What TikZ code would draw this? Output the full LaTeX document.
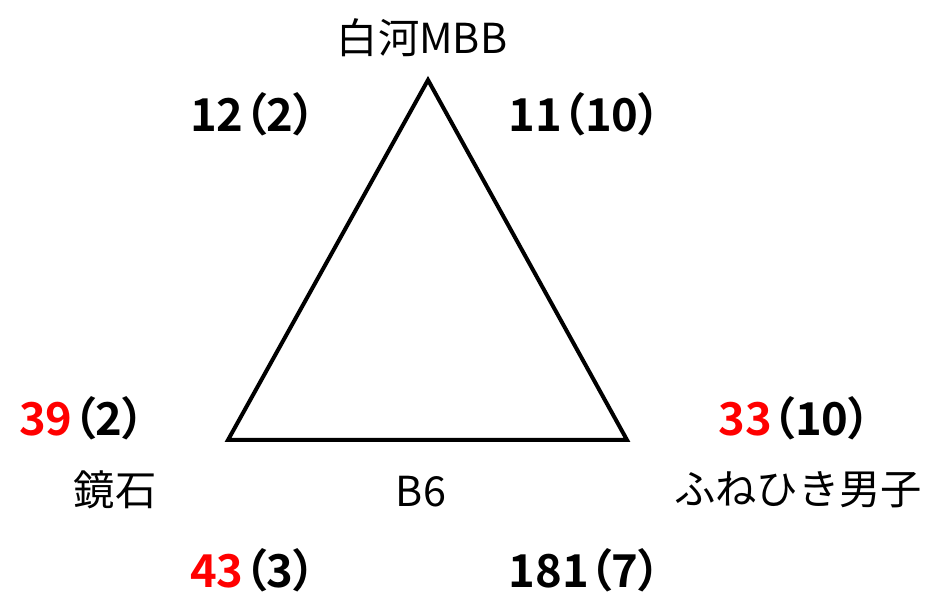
\documentclass[tikz,border=0pt]{standalone}
\usepackage{fontspec}
\setmainfont{Noto Sans CJK JP}[BoldFont={Noto Sans CJK JP Bold}]
\newfontfamily\scorefont{Noto Sans CJK JP Bold}[RawFeature=+palt]
\usetikzlibrary{positioning}
\definecolor{hit}{RGB}{255,0,0}

\begin{document}
\begin{tikzpicture}[x=0.75pt, y=-0.75pt, font=\fontsize{31pt}{36pt}\selectfont,
    num/.style={font=\fontsize{34pt}{40pt}\scorefont}]
        \useasboundingbox (0,0) rectangle (936,595);

        % corners of the triangle
        \coordinate (shirakawa) at (428,80);
        \coordinate (kagami) at (228,440);
        \coordinate (funehiki) at (627,440);

        % Draw the triangle
        \draw[line width=3pt, line join=miter] (shirakawa) -- (kagami) -- (funehiki) -- cycle;

        % Draw the team names
        \node (n1) at (422,38) {白河MBB};
        \node (n2) at (115,490) {鏡石};
        \node (n3) at (798,490) {ふねひき男子};
        \node (b6) at (421,492) {B6};

        % Draw the scores on the edges
        \node[num] (s12) at (253,114) {12（2）};
        \node[num] (s11) at (585,114) {11（10）};
        \node[num] (s43) at (253,570) {\textcolor{hit}{43}（3）};
        \node[num] (s181) at (585,570) {181（7）};

        % Draw the scores at the corners
        \node[num] (s39) at (82,418) {\textcolor{hit}{39}（2）};
        \node[num] (s33) at (795,418) {\textcolor{hit}{33}（10）};
\end{tikzpicture}
\end{document}
